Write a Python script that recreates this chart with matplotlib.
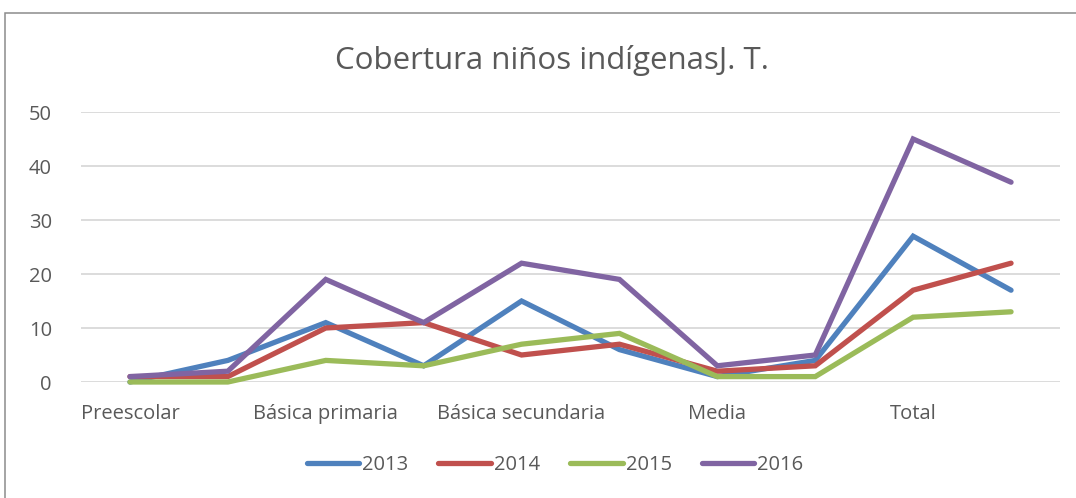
import matplotlib.pyplot as plt
from matplotlib.patches import Rectangle

# Data
categories = ['Preescolar', '', 'Básica primaria', '', 'Básica secundaria', '',
              'Media', '', 'Total', '']
years = ['2013', '2014', '2015', '2016']
v2013 = [0, 4, 11, 3, 15, 6, 1, 4, 27, 17]
v2014 = [1, 1, 10, 11, 5, 7, 2, 3, 17, 22]
v2015 = [0, 0, 4, 3, 7, 9, 1, 1, 12, 13]
v2016 = [1, 2, 19, 11, 22, 19, 3, 5, 45, 37]
yticks = [0, 10, 20, 30, 40, 50]

colors = ['#4F81BD', '#C0504D', '#9BBB59', '#8064A2']
text_color = '#595959'

plt.rcParams['font.family'] = ['Open Sans', 'DejaVu Sans']

fig = plt.figure(figsize=(10.76, 4.98), dpi=100)
ax = fig.add_axes([81 / 1076, 116 / 498, 979 / 1076, 270 / 498])

# outer chart border
fig.patches.append(Rectangle((5 / 1076, -0.1), 1.2, (498 - 13) / 498 + 0.1,
                             transform=fig.transFigure, fill=False,
                             edgecolor='#8C8C8C', linewidth=1.1))

x = list(range(len(categories)))
for vals, label, c in zip([v2013, v2014, v2015, v2016], years, colors):
    ax.plot(x, vals, color=c, linewidth=3.8, label=label,
            solid_capstyle='round', solid_joinstyle='miter', clip_on=False)

ax.set_xlim(-0.5, len(categories) - 0.5)
ax.set_ylim(0, 50)
ax.set_yticks(yticks)
ax.set_xticks(x)
ax.set_xticklabels(categories)
ax.grid(axis='y', color='#D9D9D9', linewidth=1.3)
ax.set_axisbelow(True)
for s in ax.spines.values():
    s.set_visible(False)
ax.tick_params(axis='both', length=0, labelsize=14.5, colors=text_color)
ax.tick_params(axis='x', pad=16)
ax.tick_params(axis='y', pad=21)

fig.text(552 / 1076, 1 - 60 / 498, 'Cobertura niños indígenasJ. T.',
         ha='center', va='center', fontsize=22.5, color=text_color)

leg = fig.legend(loc='center', bbox_to_anchor=(555 / 1076, 1 - 465 / 498),
                 ncol=4, frameon=False, fontsize=14.5, handlelength=2.6,
                 handletextpad=0.15, columnspacing=1.5)
for t in leg.get_texts():
    t.set_color(text_color)

fig.savefig('out.png', dpi=100)
